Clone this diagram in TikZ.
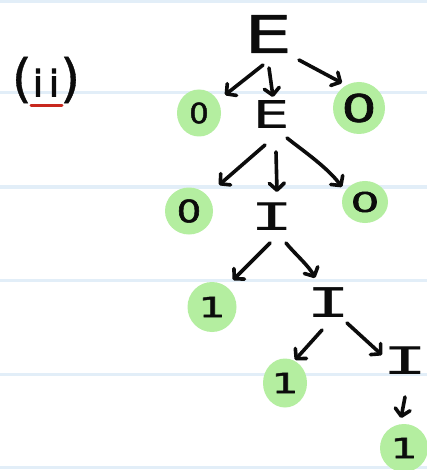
\documentclass[tikz,border=0pt]{standalone}
\usepackage{fontspec}
\setmainfont{DejaVu Sans}
\newfontfamily\penfont[FakeBold=1.6]{DejaVu Sans}
\newfontfamily\penlight[FakeBold=0.7]{DejaVu Sans}
\newfontfamily\penheavy[FakeBold=3]{DejaVu Sans}
\newfontfamily\monofam{DejaVu Sans Mono}
\usetikzlibrary{arrows.meta,shapes.geometric}

\definecolor{paper}{RGB}{255,255,255}
\definecolor{rulecol}{RGB}{226,238,248}
\definecolor{hl}{RGB}{180,238,160}
\definecolor{pen}{RGB}{12,12,12}
\definecolor{redpen}{RGB}{200,40,30}

% glyph at a given size, stretched horizontally
\newcommand\hw[3]{\scalebox{#2}[1]{\fontsize{#1}{#1}\selectfont #3}}

\begin{document}
\begin{tikzpicture}[x=1pt,y=-1pt,
  sym/.style={inner sep=0pt, text=pen},
  leaf/.style={ellipse, fill=hl, inner sep=0pt, text=pen},
  arr/.style={draw=pen, line width=3.6pt, line cap=round, line join=round,
    -{Straight Barb[length=7pt,width=15pt,round]}},
  ruled/.style={draw=rulecol, line width=3pt}]

\useasboundingbox (0,0) rectangle (427,470);
\fill[paper] (0,0) rectangle (427,470);
\foreach \yy in {2,93,187,280,374,467} \draw[ruled] (0,\yy) -- (427,\yy);

% label
\node[sym] (lbl) at (46,80) {\penlight\fontsize{52}{52}\selectfont(\kern1pt\penheavy\fontsize{36}{36}\selectfont i\kern6pt i\kern1pt\penlight\fontsize{52}{52}\selectfont)};
\draw[draw=redpen, line width=3pt, line cap=round]
  ([shift={(-15,26)}]lbl.center) -- ([shift={(16,26)}]lbl.center);

% highlighted leaves
\node[leaf, minimum width=44pt, minimum height=47pt] (z1) at (199,113) {\hw{28}{1.1}{\penfont 0}};
\node[leaf, minimum width=52pt, minimum height=52pt] (z2) at (359,108) {\hw{38}{1.45}{\penfont 0}};
\node[leaf, minimum width=48pt, minimum height=47pt] (z3) at (189,211) {\hw{31}{1.25}{\penfont 0}};
\node[leaf, minimum width=46pt, minimum height=42pt] (z4) at (365,202) {\hw{27}{1.7}{\penfont 0}};
\node[leaf, minimum width=49pt, minimum height=50pt] (o1) at (212,307) {\hw{28}{1.5}{\penfont 1}};
\node[leaf, minimum width=44pt, minimum height=49pt] (o2) at (285,383) {\hw{28}{1.5}{\penfont 1}};
\node[leaf, minimum width=48pt, minimum height=48pt] (o3) at (404,448) {\hw{28}{1.5}{\penfont 1}};

% inner symbols
\node[sym] (E1) at (268,34) {\hw{52}{1.45}{\penlight E}};
\node[sym] (E2) at (271,114) {\hw{38}{1.5}{\penlight E}};
\node[sym] (I1) at (272,217) {\hw{38}{1.9}{\monofam I}};
\node[sym] (I2) at (329,303) {\hw{41}{1.8}{\monofam I}};
\node[sym] (I3) at (405,361) {\hw{38}{2.0}{\monofam I}};

% derivation arrows
\draw[arr] ([shift={(-5,31)}]E1.center) -- ([shift={(26,-18)}]z1.center);
\draw[arr] ([shift={(1,34)}]E1.center) -- ([shift={(2,-17)}]E2.center);
\draw[arr] ([shift={(31,26)}]E1.center) -- ([shift={(-17,-25)}]z2.center);

\draw[arr] ([shift={(-6,31)}]E2.center) -- ([shift={(30,-26)}]z3.center);
\draw[arr] ([shift={(5,38)}]E2.center) -- ([shift={(5,-25)}]I1.center);
\draw[arr] ([shift={(16,24)}]E2.center) .. controls +(15,12) and +(-15,-20) .. ([shift={(-23,-15)}]z4.center);

\draw[arr] ([shift={(-2,26)}]I1.center) -- ([shift={(21,-27)}]o1.center);
\draw[arr] ([shift={(14,26)}]I1.center) .. controls +(8,10) and +(-6,-12) .. ([shift={(-14,-25)}]I2.center);

\draw[arr] ([shift={(-7,27)}]I2.center) -- ([shift={(10,-23)}]o2.center);
\draw[arr] ([shift={(18,20)}]I2.center) -- ([shift={(-23,-6)}]I3.center);

\draw[arr] ([shift={(0,36)}]I3.center) -- ([shift={(-3,-30)}]o3.center);
\end{tikzpicture}
\end{document}
